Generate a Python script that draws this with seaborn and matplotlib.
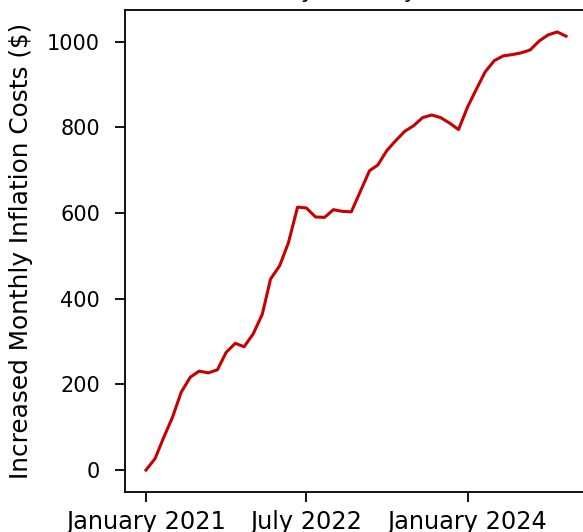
import numpy as np
import pandas as pd
import matplotlib
matplotlib.use("Agg")
import matplotlib.pyplot as plt
import matplotlib.dates as mdates
import seaborn as sns

# =========================================================
# DATA (monthly, Jan 2021 - Dec 2024)
# =========================================================

months = pd.date_range("2021-01-01", periods=48, freq="MS")

extra_cost = [
    0, 27, 74, 123, 182, 217, 231, 227, 234, 275, 296, 288,
    318, 364, 446, 477, 531, 614, 612, 591, 590, 608, 604, 603,
    651, 699, 712, 746, 769, 791, 804, 823, 829, 823, 810, 795,
    848, 891, 930, 956, 967, 970, 974, 981, 1002, 1016, 1023, 1013,
]

tick_dates = pd.to_datetime(["2021-01-01", "2022-07-01", "2024-01-01"])

title_text = "Monthly Costs by Year"
y_label = "Increased Monthly Inflation Costs ($)"

df = pd.DataFrame({"month": months, "cost": extra_cost})

# =========================================================
# PLOT
# =========================================================

fig = plt.figure(figsize=(5.83, 5.32), dpi=100)
ax = fig.add_axes([0.2144, 0.0752, 0.7925, 0.906])

sns.lineplot(data=df, x="month", y="cost", color="#c80000", linewidth=2.2, ax=ax)

ax.set_xticks(tick_dates)
ax.xaxis.set_major_formatter(mdates.DateFormatter("%B %Y"))
ax.set_yticks([0, 200, 400, 600, 800, 1000])

ax.set_xlabel("")
ax.set_ylabel(y_label, fontsize=17.8, labelpad=10)
ax.set_title(title_text, fontsize=16, pad=9, x=0.483)

ax.tick_params(length=7, width=1.3)
ax.tick_params(axis="y", labelsize=15, pad=11)
ax.tick_params(axis="x", labelsize=17.3, pad=6)
for s in ax.spines.values():
    s.set_linewidth(1.3)

fig.savefig("out.png", dpi=100)
